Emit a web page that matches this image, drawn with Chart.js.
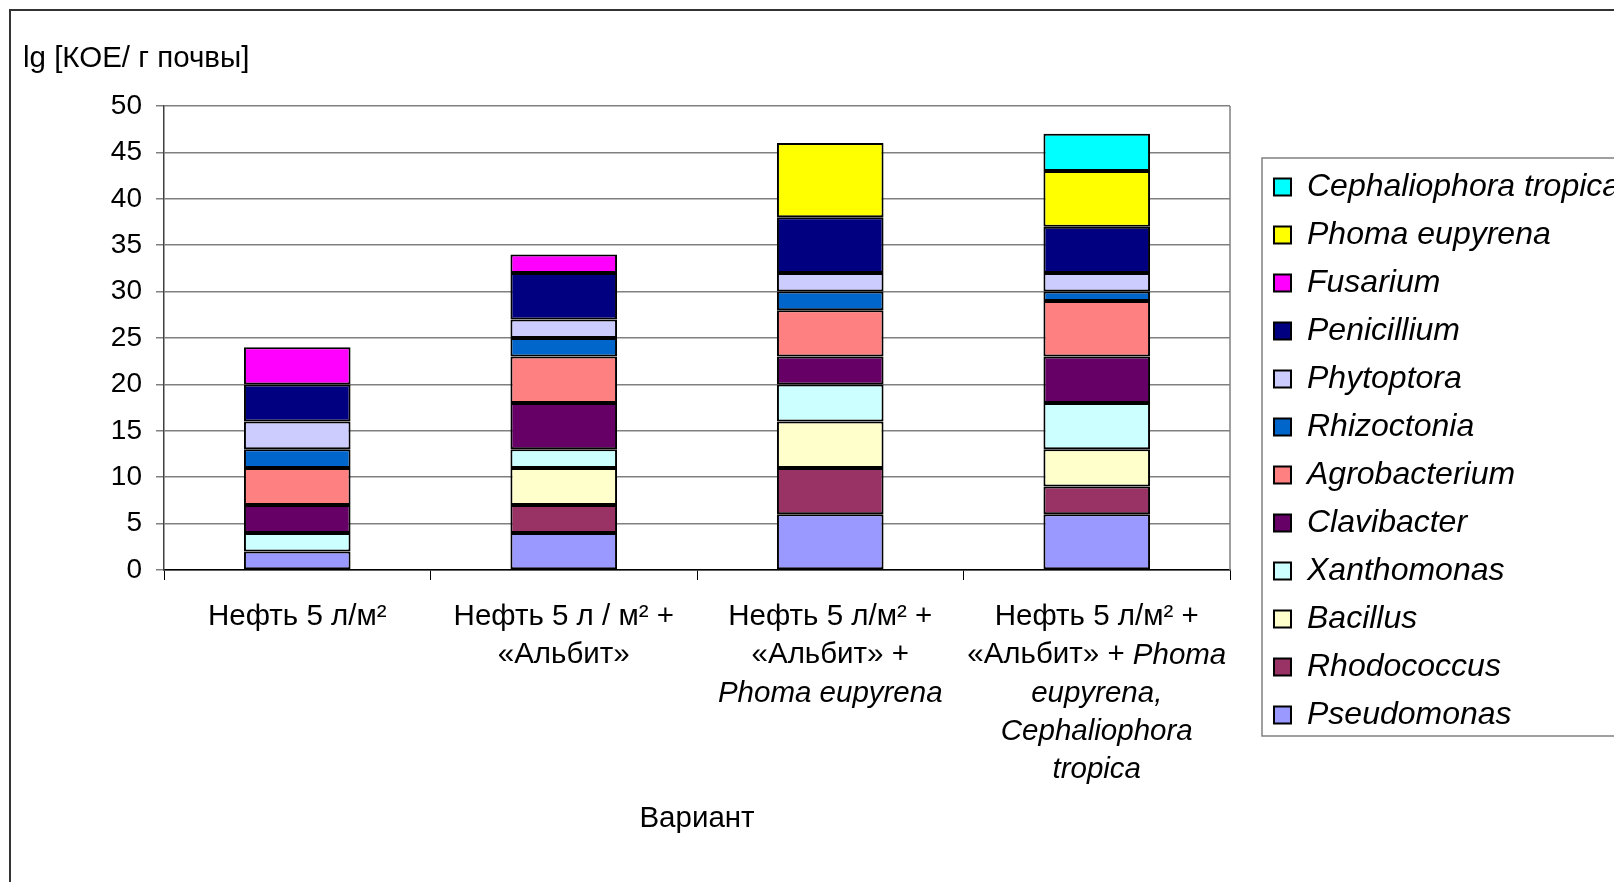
<!DOCTYPE html>
<html>
<head>
<meta charset="utf-8">
<script src="https://cdn.jsdelivr.net/npm/chart.js@4.4.1/dist/chart.umd.min.js"></script>
<style>
  html, body { margin: 0; padding: 0; background: #fff; }
  #wrap { width: 1614px; height: 882px; }
</style>
</head>
<body>
<div id="wrap"><canvas id="chart"></canvas></div>
<script>
// варианты опыта
const categories = [
    'Нефть 5 л/м²',
    'Нефть 5 л / м² + «Альбит»',
    'Нефть 5 л/м² + «Альбит» + Phoma eupyrena',
    'Нефть 5 л/м² + «Альбит» + Phoma eupyrena, Cephaliophora tropica'
];

// подписи под столбиками: строки, в строке куски [текст, курсив]
const categoryLines = [
    [[['Нефть 5 л/м²', false]]],
    [[['Нефть 5 л / м² +', false]], [['«Альбит»', false]]],
    [[['Нефть 5 л/м² +', false]], [['«Альбит» +', false]], [['Phoma eupyrena', true]]],
    [[['Нефть 5 л/м² +', false]], [['«Альбит» + ', false], ['Phoma', true]],
     [['eupyrena,', true]], [['Cephaliophora', true]], [['tropica', true]]]
];

// lg КОЕ по группам (снизу вверх)
const pseudomonas   = [2, 4, 6, 6];
const rhodococcus   = [null, 3, 5, 3];
const bacillus      = [null, 4, 5, 4];
const xanthomonas   = [2, 2, 4, 5];
const clavibacter   = [3, 5, 3, 5];
const agrobacterium = [4, 5, 5, 6];
const rhizoctonia   = [2, 2, 2, 1];
const phytoptora    = [3, 2, 2, 2];
const penicillium   = [4, 5, 6, 5];
const fusarium      = [4, 2, null, null];
const phoma         = [null, null, 8, 6];
const cephaliophora = [null, null, null, 4];

const seriesNames = ['Pseudomonas', 'Rhodococcus', 'Bacillus', 'Xanthomonas', 'Clavibacter',
    'Agrobacterium', 'Rhizoctonia', 'Phytoptora', 'Penicillium', 'Fusarium',
    'Phoma eupyrena', 'Cephaliophora tropica'];
const seriesValues = [pseudomonas, rhodococcus, bacillus, xanthomonas, clavibacter,
    agrobacterium, rhizoctonia, phytoptora, penicillium, fusarium, phoma, cephaliophora];
const seriesColors = ['#9999FF', '#993366', '#FFFFCC', '#CCFFFF', '#660066',
    '#FF8080', '#0066CC', '#CCCCFF', '#000080', '#FF00FF', '#FFFF00', '#00FFFF'];

const yTicks = [0, 5, 10, 15, 20, 25, 30, 35, 40, 45, 50];

const FONT = "'Liberation Sans', Arial, sans-serif";
const TXT = 29.5;

const datasets = seriesNames.map((name, i) => ({
    label: name,
    data: seriesValues[i],
    backgroundColor: seriesColors[i],
    borderColor: '#000',
    borderWidth: 2,
    borderSkipped: false,
    barPercentage: 0.40,
    categoryPercentage: 1
}));

// рамка, граница области построения, рамка легенды, подписи категорий
const decorPlugin = {
    id: 'decor',
    beforeDraw(chart) {
        const ctx = chart.ctx;
        ctx.save();
        ctx.fillStyle = '#fff';
        ctx.fillRect(0, 0, chart.width, chart.height);
        ctx.strokeStyle = '#333';
        ctx.lineWidth = 2;
        ctx.strokeRect(10, 10, chart.width + 100, chart.height + 100);
        ctx.restore();
    },
    afterLayout(chart) {
        // легенда сдвинута вправо и вылезает за край, как в Excel
        const lg = chart.legend;
        const h = lg.height;
        lg.left = chart.chartArea.right + 28;
        lg.right = chart.width + 300;
        lg.top = 155;
        lg.bottom = lg.top + h;
    },
    afterDraw(chart) {
        const ctx = chart.ctx;
        const area = chart.chartArea;
        ctx.save();
        ctx.strokeStyle = '#808080';
        ctx.lineWidth = 1.5;
        ctx.beginPath();
        ctx.moveTo(area.right, area.top);
        ctx.lineTo(area.right, area.bottom);
        ctx.stroke();

        const hb = chart.legend.legendHitBoxes;
        if (hb && hb.length) {
            const first = hb[0], last = hb[hb.length - 1];
            const top = first.top - 13;
            ctx.strokeRect(first.left - 12, top, 1000, last.top + last.height + 5 - top);
        }

        const xs = chart.scales.x;
        ctx.fillStyle = '#000';
        ctx.textBaseline = 'middle';
        ctx.textAlign = 'left';
        categoryLines.forEach((lines, i) => {
            const cx = xs.getPixelForValue(i);
            lines.forEach((segs, j) => {
                const y = area.bottom + 47 + j * 38.3;
                let total = 0;
                const widths = segs.map(([t, it]) => {
                    ctx.font = (it ? 'italic ' : '') + TXT + 'px ' + FONT;
                    const w = ctx.measureText(t).width;
                    total += w;
                    return w;
                });
                let x = cx - total / 2;
                segs.forEach(([t, it], k) => {
                    ctx.font = (it ? 'italic ' : '') + TXT + 'px ' + FONT;
                    ctx.fillText(t, x, y);
                    x += widths[k];
                });
            });
        });
        ctx.restore();
    }
};

new Chart(document.getElementById('chart'), {
    type: 'bar',
    data: { labels: categories, datasets: datasets },
    options: {
        responsive: true,
        maintainAspectRatio: false,
        animation: false,
        layout: { padding: { left: 23, top: 30, right: 84, bottom: 45 } },
        scales: {
            x: {
                stacked: true,
                offset: true,
                grid: { display: true, drawOnChartArea: false, drawTicks: true, tickLength: 10, color: '#000', offset: true },
                border: { color: '#000', width: 1.5 },
                ticks: { display: false },
                title: {
                    display: true,
                    text: 'Вариант',
                    color: '#000',
                    font: { family: FONT, size: TXT },
                    padding: { top: 221.6, bottom: 0 }
                }
            },
            y: {
                stacked: true,
                min: 0,
                max: 50,
                afterBuildTicks: (scale) => { scale.ticks = yTicks.map(v => ({ value: v })); },
                afterFit: (scale) => { scale.width = 141; },
                grid: { color: '#808080', lineWidth: 1.5, tickLength: 8 },
                border: { color: '#404040', width: 1.5 },
                ticks: { color: '#000', padding: 14, font: { family: FONT, size: 28 } }
            }
        },
        plugins: {
            title: {
                display: true,
                text: 'lg [КОЕ/ г почвы]',
                align: 'start',
                color: '#000',
                font: { family: FONT, size: TXT, weight: 'normal' },
                padding: { top: 11.5, bottom: 29.1 }
            },
            legend: {
                display: true,
                position: 'right',
                align: 'start',
                reverse: true,
                maxWidth: 300,
                labels: {
                    color: '#000',
                    boxWidth: 17,
                    boxHeight: 17,
                    padding: 16,
                    font: { family: FONT, size: 32, style: 'italic' }
                }
            },
            tooltip: { enabled: false }
        }
    },
    plugins: [decorPlugin]
});
</script>
</body>
</html>
